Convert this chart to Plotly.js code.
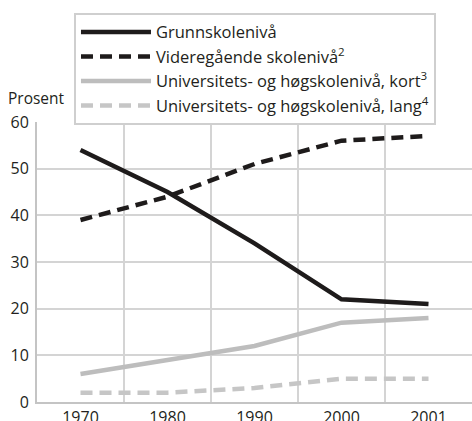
<!DOCTYPE html>
<html>
<head>
<meta charset="utf-8">
<script src="https://cdn.plot.ly/plotly-3.0.1.min.js"></script>
<style>html,body{margin:0;padding:0;background:#fff}#chart{width:472px;height:421px}</style>
</head>
<body>
<div id="chart"></div>
<script>
const years = ['1970', '1980', '1990', '2000', '2001'];
const grunnskole = [54, 45, 34, 22, 21];
const videregaende = [39, 44, 51, 56, 57];
const uniKort = [6, 9, 12, 17, 18];
const uniLang = [2, 2, 3, 5, 5];
const seriesNames = [
  'Grunnskolenivå',
  'Videregående skolenivå<sup>2</sup>',
  'Universitets- og høgskolenivå, kort<sup>3</sup>',
  'Universitets- og høgskolenivå, lang<sup>4</sup>'
];
const yTicks = [0, 10, 20, 30, 40, 50, 60];

const font = 'Open Sans, Noto Sans, Liberation Sans, sans-serif';

const traces = [
  {x: years, y: grunnskole, name: seriesNames[0], mode: 'lines',
   line: {color: '#1e1b1b', width: 4.5}},
  {x: years, y: videregaende, name: seriesNames[1], mode: 'lines',
   line: {color: '#1e1b1b', width: 4.5, dash: '12px,7px'}},
  {x: years, y: uniKort, name: seriesNames[2], mode: 'lines',
   line: {color: '#bdbdbd', width: 4.5}},
  {x: years, y: uniLang, name: seriesNames[3], mode: 'lines',
   line: {color: '#c6c6c6', width: 4.5, dash: '12px,7px'}}
];

const layout = {
  width: 472, height: 421,
  margin: {l: 37, r: 0, t: 122, b: 19},
  paper_bgcolor: '#fff', plot_bgcolor: '#fff',
  font: {family: font, size: 16, color: '#231f20'},
  showlegend: true,
  legend: {
    x: 0.085, xanchor: 'left', y: 1.39, yanchor: 'top',
    bgcolor: '#fff', bordercolor: '#cfcfcf', borderwidth: 2,
    font: {family: font, size: 16.5, color: '#231f20'},
    itemwidth: 70, tracegroupgap: 0,
    traceorder: 'normal'
  },
  xaxis: {
    type: 'category', range: [-0.5, 4.5],
    tickson: 'boundaries', ticks: '', showgrid: true,
    gridcolor: '#d4d4d4', gridwidth: 2,
    showline: true, linecolor: '#c4c4c4', linewidth: 2,
    zeroline: false, fixedrange: true,
    tickfont: {family: font, size: 16, color: '#231f20'}
  },
  yaxis: {
    range: [0, 60], tickvals: yTicks, showgrid: true,
    gridcolor: '#d4d4d4', gridwidth: 2,
    showline: true, linecolor: '#c4c4c4', linewidth: 2,
    zeroline: false, ticks: '', ticklabelstandoff: 3,
    tickfont: {family: font, size: 16, color: '#231f20'}
  },
  annotations: [{
    text: 'Prosent', xref: 'paper', yref: 'paper',
    x: -0.072, xanchor: 'left', y: 1.086, yanchor: 'middle',
    showarrow: false, font: {family: font, size: 15.5, color: '#231f20'}
  }]
};

Plotly.newPlot('chart', traces, layout, {displayModeBar: false, staticPlot: true});
</script>
</body>
</html>
